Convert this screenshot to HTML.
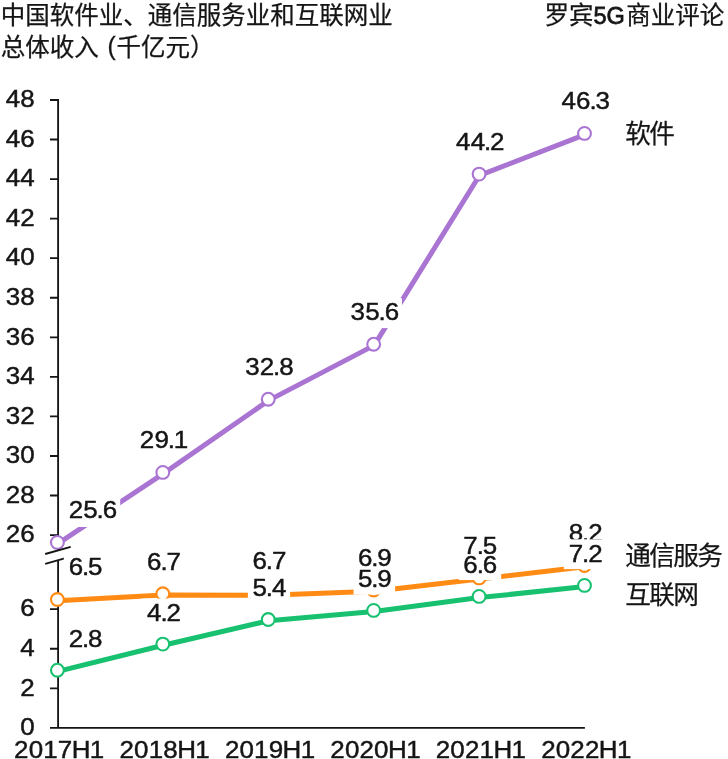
<!DOCTYPE html>
<html lang="zh-CN">
<head>
<meta charset="utf-8">
<title>中国软件业、通信服务业和互联网业总体收入</title>
<style>
html,body{margin:0;padding:0;background:#fff;}
body{width:728px;height:759px;overflow:hidden;font-family:"Liberation Sans",sans-serif;}
svg{display:block;will-change:transform;}
svg text{font-family:"Liberation Sans",sans-serif;white-space:pre;}
svg text.cjk{font-family:"Liberation Sans","Noto Sans CJK SC",sans-serif;}
</style>
</head>
<body>
<svg width="728" height="759" viewBox="0 0 728 759" role="img" aria-label="中国软件业、通信服务业和互联网业总体收入（千亿元）">
<rect width="728" height="759" fill="#fff"/>
<g fill="none" stroke="#151515" stroke-width="1.85">
<path d="M50 99.95H58.1V550.36"/>
<path d="M50 535.1H58.1M50 495.54H58.1M50 455.98H58.1M50 416.42H58.1M50 376.86H58.1M50 337.3H58.1M50 297.75H58.1M50 258.19H58.1M50 218.63H58.1M50 179.07H58.1M50 139.51H58.1"/>
<path d="M58.1 560.26V727.9"/>
<path d="M50 688.3H58.1M50 648.7H58.1M50 609.1H58.1"/>
<path d="M50 727.9H584.9"/>
</g>
<polyline points="57.9,543.6 163.32,473.6 268.74,400.4 374.16,345.4 479.58,175.3 585,134.6" fill="none" stroke="#a974d2" stroke-width="5" stroke-linejoin="round"/>
<polyline points="57.9,600.7 163.32,595 268.74,595.2 374.16,591.2 479.58,579.1 585,566.7" fill="none" stroke="#ff8a14" stroke-width="5" stroke-linejoin="round"/>
<polyline points="57.9,671.4 163.32,645.3 268.74,620.7 374.16,611.6 479.58,597.6 585,586.6" fill="none" stroke="#17c170" stroke-width="5" stroke-linejoin="round"/>
<g fill="#fff" stroke="#a974d2" stroke-width="2.1">
<circle cx="57.4" cy="542.4" r="6.4"/>
<circle cx="162.82" cy="472.4" r="6.4"/>
<circle cx="268.24" cy="399.2" r="6.4"/>
<circle cx="373.66" cy="344.2" r="6.4"/>
<circle cx="479.08" cy="174.1" r="6.4"/>
<circle cx="584.5" cy="133.4" r="6.4"/>
</g>
<g fill="#fff" stroke="#ff8a14" stroke-width="2.1">
<circle cx="57.4" cy="599.5" r="6.4"/>
<circle cx="162.82" cy="593.8" r="6.4"/>
<circle cx="268.24" cy="594" r="6.4"/>
<circle cx="373.66" cy="590" r="6.4"/>
<circle cx="479.08" cy="577.9" r="6.4"/>
<circle cx="584.5" cy="565.5" r="6.4"/>
</g>
<g fill="#fff" stroke="#17c170" stroke-width="2.1">
<circle cx="57.4" cy="670.2" r="6.4"/>
<circle cx="162.82" cy="644.1" r="6.4"/>
<circle cx="268.24" cy="619.5" r="6.4"/>
<circle cx="373.66" cy="610.4" r="6.4"/>
<circle cx="479.08" cy="596.4" r="6.4"/>
<circle cx="584.5" cy="585.4" r="6.4"/>
</g>
<g fill="none" stroke="#151515" stroke-width="1.85">
<path d="M45.2 554L70.7 546.8M45.2 563.9L70.7 556.7"/>
</g>
<g font-family="'Liberation Sans', sans-serif" font-size="24.5" fill="#151515" stroke="#151515" stroke-width="0.45">
<rect x="64.5" y="497" width="55.7" height="30" fill="#fff" stroke="none"/>
<text transform="translate(68.6 518.4) scale(1.06 1)" x="0.07 13.85 26.41 32.15">25.6</text>
<text transform="translate(139.72 448.2) scale(1.06 1)" x="0.07 13.85 26.41 32.15">29.1</text>
<text transform="translate(245.14 375.1) scale(1.06 1)" x="0.07 13.85 26.41 32.15">32.8</text>
<rect x="344.5" y="298.2" width="57.5" height="29.9" fill="#fff" stroke="none"/>
<text transform="translate(350.56 320.1) scale(1.06 1)" x="0.07 13.85 26.41 32.15">35.6</text>
<text transform="translate(455.98 150.1) scale(1.06 1)" x="0.07 13.85 26.41 32.15">44.2</text>
<text transform="translate(561.4 109.4) scale(1.06 1)" x="0.07 13.85 26.41 32.15">46.3</text>
<rect x="63.8" y="553" width="41.2" height="30" fill="#fff" stroke="none"/>
<text transform="translate(68.6 575.4) scale(1.06 1)" x="0.07 12.63 18.38">6.5</text>
<text transform="translate(147.02 569.6) scale(1.06 1)" x="0.07 12.63 18.38">6.7</text>
<text transform="translate(252.44 569.3) scale(1.06 1)" x="0.07 12.63 18.38">6.7</text>
<text transform="translate(357.86 565.8) scale(1.06 1)" x="0.07 12.63 18.38">6.9</text>
<text transform="translate(463.28 553.6) scale(1.06 1)" x="0.07 12.63 18.38">7.5</text>
<text transform="translate(568.7 540.9) scale(1.06 1)" x="0.07 12.63 18.38">8.2</text>
<text transform="translate(68.6 646.8) scale(1.06 1)" x="0.07 12.63 18.38">2.8</text>
<rect x="141.5" y="598.5" width="42.5" height="30" fill="#fff" stroke="none"/>
<text transform="translate(147.02 621) scale(1.06 1)" x="0.07 12.63 18.38">4.2</text>
<rect x="247.9" y="574" width="42.2" height="29.5" fill="#fff" stroke="none"/>
<text transform="translate(252.44 595.7) scale(1.06 1)" x="0.07 12.63 18.38">5.4</text>
<rect x="353.5" y="567.8" width="41.6" height="26.7" fill="#fff" stroke="none"/>
<text transform="translate(357.86 586.95) scale(1.06 1)" x="0.07 12.63 18.38">5.9</text>
<rect x="458.7" y="554.3" width="42.5" height="25.75" fill="#fff" stroke="none"/>
<text transform="translate(463.28 572.8) scale(1.06 1)" x="0.07 12.63 18.38">6.6</text>
<rect x="563.8" y="539.3" width="42.5" height="29.85" fill="#fff" stroke="none"/>
<text transform="translate(568.7 562) scale(1.06 1)" x="0.07 12.63 18.38">7.2</text>
<text transform="translate(5.6 542.3) scale(1.06 1)" x="0.07 13.85">26</text>
<text transform="translate(5.6 502.74) scale(1.06 1)" x="0.07 13.85">28</text>
<text transform="translate(5.6 463.18) scale(1.06 1)" x="0.07 13.85">30</text>
<text transform="translate(5.6 423.62) scale(1.06 1)" x="0.07 13.85">32</text>
<text transform="translate(5.6 384.06) scale(1.06 1)" x="0.07 13.85">34</text>
<text transform="translate(5.6 344.5) scale(1.06 1)" x="0.07 13.85">36</text>
<text transform="translate(5.6 304.95) scale(1.06 1)" x="0.07 13.85">38</text>
<text transform="translate(5.6 265.39) scale(1.06 1)" x="0.07 13.85">40</text>
<text transform="translate(5.6 225.83) scale(1.06 1)" x="0.07 13.85">42</text>
<text transform="translate(5.6 186.27) scale(1.06 1)" x="0.07 13.85">44</text>
<text transform="translate(5.6 146.71) scale(1.06 1)" x="0.07 13.85">46</text>
<text transform="translate(5.6 107.15) scale(1.06 1)" x="0.07 13.85">48</text>
<text transform="translate(20.2 735.1) scale(1.06 1)" x="0.07">0</text>
<text transform="translate(20.2 695.5) scale(1.06 1)" x="0.07">2</text>
<text transform="translate(20.2 655.9) scale(1.06 1)" x="0.07">4</text>
<text transform="translate(20.2 616.3) scale(1.06 1)" x="0.07">6</text>
<text transform="translate(14 757.5) scale(1.06 1)" x="0.07 13.85 27.62 41.39 54.46 71.58">2017H1</text>
<text transform="translate(119.42 757.5) scale(1.06 1)" x="0.07 13.85 27.62 41.39 54.46 71.58">2018H1</text>
<text transform="translate(224.84 757.5) scale(1.06 1)" x="0.07 13.85 27.62 41.39 54.46 71.58">2019H1</text>
<text transform="translate(330.26 757.5) scale(1.06 1)" x="0.07 13.85 27.62 41.39 54.46 71.58">2020H1</text>
<text transform="translate(435.68 757.5) scale(1.06 1)" x="0.07 13.85 27.62 41.39 54.46 71.58">2021H1</text>
<text transform="translate(541.1 757.5) scale(1.06 1)" x="0.07 13.85 27.62 41.39 54.46 71.58">2022H1</text>
</g>
<g fill="#151515" stroke="#151515" stroke-width="0.25">
<g role="heading" aria-level="1" aria-label="中国软件业、通信服务业和互联网业总体收入 (千亿元）"><title>中国软件业、通信服务业和互联网业总体收入 (千亿元）</title>
<text class="cjk" x="0.8" y="24" font-size="24.5">中国软件业、通信服务业和互联网业</text>
<text class="cjk" x="0.8" y="55.7" font-size="24.5">总体收入</text>
<text transform="translate(107.4 54.6) scale(1 1.09)" font-family="'Liberation Sans', sans-serif" font-size="24.5" stroke-width="0.3">(</text>
<text class="cjk" x="116.4" y="55.7" font-size="24.5">千亿元）</text>
</g>
<g aria-label="罗宾5G商业评论"><title>罗宾5G商业评论</title>
<text class="cjk" x="544.6" y="24" font-size="24.5">罗宾</text>
<text transform="translate(593.55 24) scale(0.96 1)" font-family="'Liberation Sans', sans-serif" font-size="24.5" stroke-width="0.75">5G</text>
<text class="cjk" x="626.2" y="24" font-size="24.5">商业评论</text>
</g>
<text class="cjk" aria-label="软件" x="625.2" y="142.7" font-size="25.7" letter-spacing="-1.7">软件</text>
<text class="cjk" aria-label="通信服务" x="625.2" y="565.1" font-size="25.7" letter-spacing="-1.65">通信服务</text>
<text class="cjk" aria-label="互联网" x="625.2" y="604.3" font-size="25.7" letter-spacing="-1.65">互联网</text>
</g>
</svg>
</body>
</html>
